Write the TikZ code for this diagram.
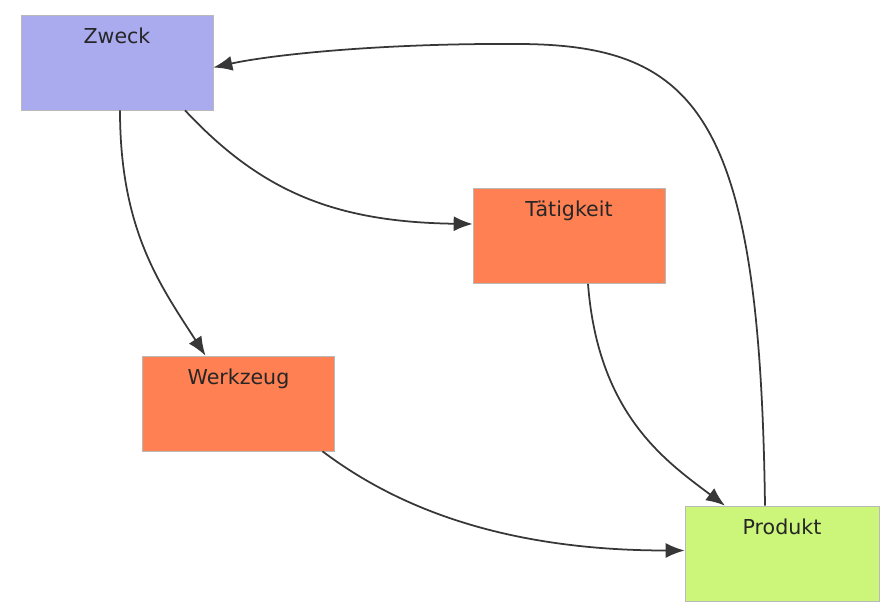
\documentclass[tikz,border=0pt]{standalone}
\usepackage{fontspec}
\setmainfont{DejaVu Sans}
\usepackage{tikz}
\usetikzlibrary{arrows.meta,calc}

\definecolor{zweckfarbe}{RGB}{170,170,238}
\definecolor{koralle}{RGB}{255,128,82}
\definecolor{produktgruen}{RGB}{204,246,122}
\definecolor{pfeilgrau}{RGB}{55,55,55}

\begin{document}
\begin{tikzpicture}[x=0.02cm,y=-0.02cm,font=\fontsize{11.7}{14}\selectfont]
\useasboundingbox (0,0) rectangle (887,612);
\begin{scope}[every node/.style={rectangle,draw=gray!55,text=black!85,
	minimum width=3.84cm,inner sep=0pt,text height=0.56cm,text depth=1.34cm}]
	\node[fill=zweckfarbe] (zweck) at (117,62.5) {Zweck};
	\node[fill=koralle] (taetigkeit) at (569,236) {Tätigkeit};
	\node[fill=koralle] (werkzeug) at (238.5,403.5) {Werkzeug};
	\node[fill=produktgruen,minimum width=3.88cm] (produkt) at (782,553.5) {Produkt};
\end{scope}

\begin{scope}[draw=pfeilgrau,line width=1pt]
	\draw[-{Latex[length=3.8mm,width=3mm]}] ($(zweck.south)+(3,0)$) .. controls +(0,120) and +(-45,-70) .. ($(werkzeug.north)+(-33,0)$);
	\draw[-{Latex[length=3.8mm,width=3mm]}] ($(zweck.south)+(68,0)$) .. controls +(75,80) and +(-140,-2) .. ($(taetigkeit.west)+(0,-12)$);
	\draw[-{Latex[length=3.8mm,width=3mm]}] ($(taetigkeit.south)+(19,0)$) .. controls +(10,130) and +(-60,-45) .. ($(produkt.north)+(-57,0)$);
	\draw[-{Latex[length=3.8mm,width=3mm]}] ($(werkzeug.south)+(84,0)$) .. controls +(60,45) and +(-200,0) .. ($(produkt.west)+(0,-3)$);
	\draw[-{Latex[length=3.8mm,width=3mm]}] ($(produkt.north)+(-17,0)$) .. controls (760,120) and (700,45) .. (520,44)
	 .. controls (380,43) and (270,55) .. ($(zweck.east)+(0,5)$);
\end{scope}

\end{tikzpicture}
\end{document}
